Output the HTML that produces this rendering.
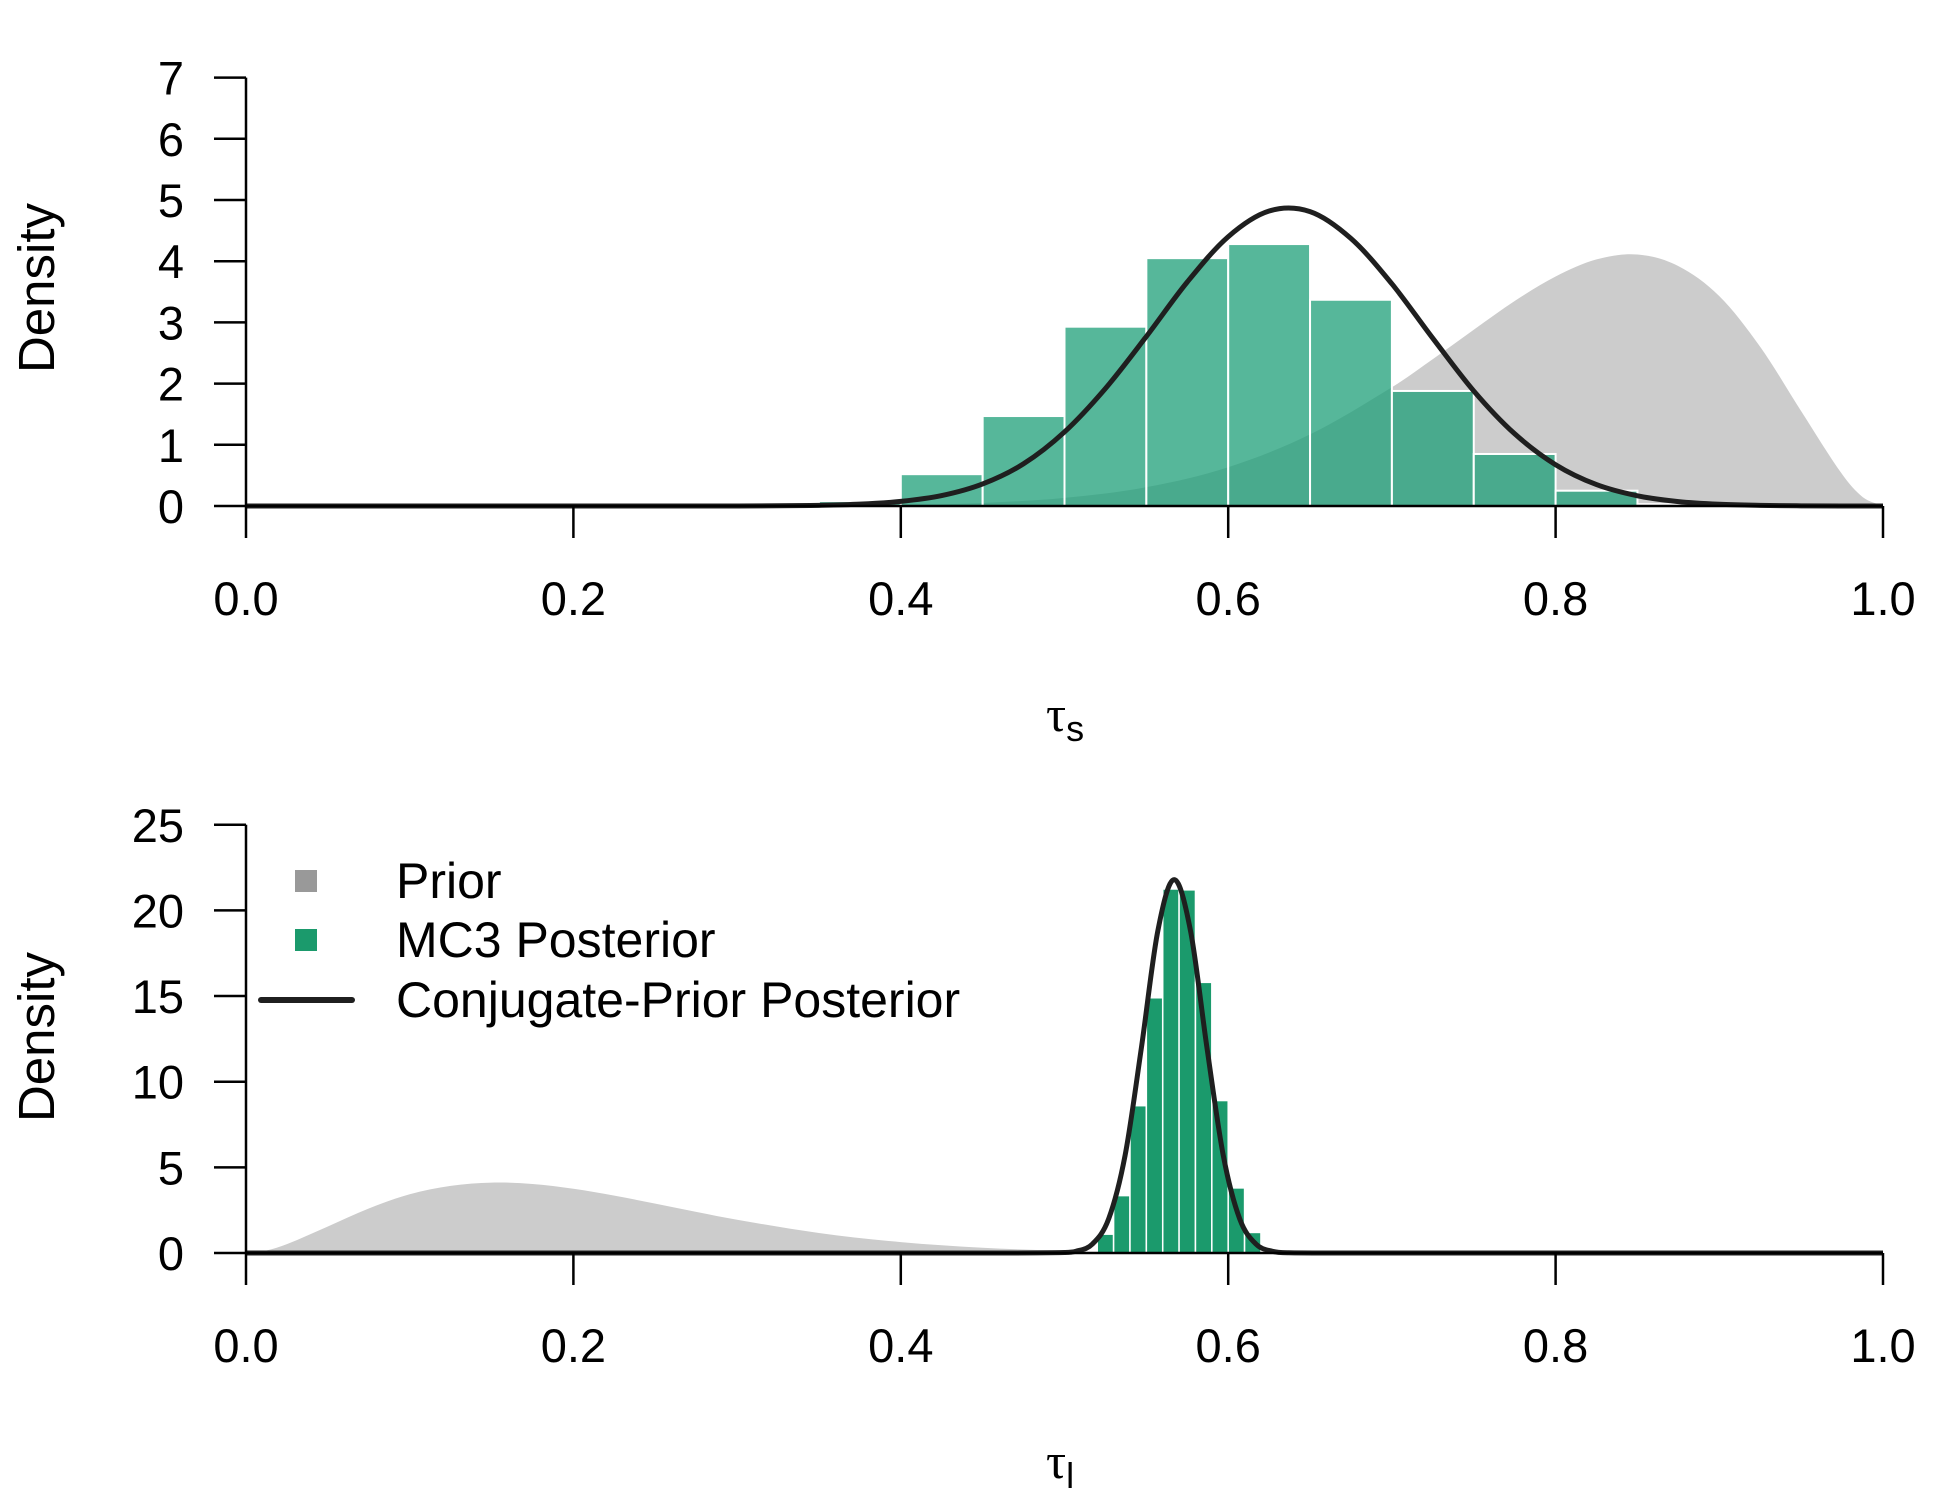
<!DOCTYPE html>
<html><head><meta charset="utf-8">
<style>
html,body{margin:0;padding:0;background:#fff;}
svg{display:block;font-family:"Liberation Sans",Arial,sans-serif;}
</style></head>
<body>
<svg id="chart" width="1950" height="1500" viewBox="0 0 1950 1500" xmlns="http://www.w3.org/2000/svg"></svg>
<script>
// ---------- data: top panel (tau_s) ----------
const topBinStarts = [0.35,0.40,0.45,0.50,0.55,0.60,0.65,0.70,0.75,0.80,0.85];
const topBinWidth = 0.05;
const topBinValues = [0.08,0.52,1.47,2.93,4.05,4.28,3.37,1.88,0.85,0.25,0.03];
const topPriorX = [0,0.3,0.4,0.45,0.5,0.55,0.6,0.65,0.7,0.725,0.75,0.775,0.8,0.825,0.85,0.875,0.9,0.925,0.95,0.975,0.9875,1.0];
const topPriorY = [0,0.0005,0.016,0.05,0.133,0.308,0.634,1.17,1.94,2.40,2.88,3.35,3.75,4.03,4.11,3.92,3.43,2.60,1.55,0.52,0.148,0];
const topPostX = [0,0.1,0.2,0.3,0.325,0.35,0.375,0.4,0.425,0.45,0.475,0.5,0.525,0.55,0.575,0.6,0.625,0.65,0.675,0.7,0.725,0.75,0.775,0.8,0.825,0.85,0.875,0.9,0.925,0.95,0.975,1];
const topPostY = [0,0,0,0.001,0.0035,0.011,0.030,0.075,0.17,0.36,0.69,1.21,1.92,2.77,3.66,4.40,4.82,4.81,4.37,3.63,2.74,1.88,1.18,0.675,0.35,0.167,0.072,0.028,0.010,0.003,0.001,0];
const topYTicks = [0,1,2,3,4,5,6,7];
// ---------- data: bottom panel (tau_l) ----------
const botBinStarts = [0.51,0.52,0.53,0.54,0.55,0.56,0.57,0.58,0.59,0.60,0.61];
const botBinWidth = 0.01;
const botBinValues = [0.1,1.1,3.35,8.6,14.9,21.25,21.2,15.8,8.9,3.8,1.2];
const botPriorX = [0,0.0125,0.025,0.05,0.075,0.1,0.125,0.15,0.175,0.2,0.225,0.25,0.275,0.3,0.35,0.4,0.45,0.5,0.55,0.6,0.7,1.0];
const botPriorY = [0,0.148,0.52,1.55,2.60,3.43,3.92,4.11,4.03,3.75,3.35,2.88,2.40,1.94,1.17,0.634,0.308,0.133,0.05,0.016,0,0];
const botPostX = [0,0.45,0.5,0.507,0.517,0.527,0.537,0.547,0.557,0.567,0.577,0.587,0.597,0.607,0.617,0.627,0.637,0.7,1];
const botPostY = [0,0,0.027,0.10,0.52,2.0,5.69,12.0,18.8,21.8,18.8,12.0,5.69,2.0,0.52,0.10,0.015,0,0];
const botYTicks = [0,5,10,15,20,25];
const xTicks = [0,0.2,0.4,0.6,0.8,1.0];
const xTickLabels = ["0.0","0.2","0.4","0.6","0.8","1.0"];

const NS = "http://www.w3.org/2000/svg";
const svg = document.getElementById('chart');
function mk(tag, attrs, parent){
  const e = document.createElementNS(NS, tag);
  for (const k in attrs) e.setAttribute(k, attrs[k]);
  (parent||svg).appendChild(e);
  return e;
}
const X0 = 246, X1 = 1883;
function xs(v){ return X0 + v*(X1-X0); }
function smoothPath(px, py){
  let d = "M"+px[0].toFixed(2)+","+py[0].toFixed(2);
  for (let i=0;i<px.length-1;i++){
    const x0=px[Math.max(i-1,0)], y0=py[Math.max(i-1,0)];
    const x1=px[i], y1=py[i], x2=px[i+1], y2=py[i+1];
    const x3=px[Math.min(i+2,px.length-1)], y3=py[Math.min(i+2,px.length-1)];
    const h=x2-x1;
    const m1=(y2-y0)/((x2-x0)||1), m2=(y3-y1)/((x3-x1)||1);
    d += " C"+(x1+h/3).toFixed(2)+","+(y1+m1*h/3).toFixed(2)+" "+(x2-h/3).toFixed(2)+","+(y2-m2*h/3).toFixed(2)+" "+x2.toFixed(2)+","+y2.toFixed(2);
  }
  return d;
}
function panel(cfg){
  const g = mk('g', {});
  
  
  const base = cfg.base, unit = cfg.unit;
  const ys = v => base - v*unit;
  const ppx = cfg.priorX.map(xs), ppy = cfg.priorY.map(v=>Math.min(ys(v),base));
  const prior = mk('path', {d: smoothPath(ppx,ppy)+" L"+xs(1)+","+base+" L"+xs(0)+","+base+" Z", fill:"#cccccc", stroke:"none"}, g);
  
  
  cfg.binStarts.forEach((s,i)=>{
    const v = cfg.binValues[i];
    const r = mk('rect', {x: xs(s), y: ys(v), width: xs(s+cfg.binWidth)-xs(s), height: v*unit, fill: cfg.barFill, stroke:"#ffffff", "stroke-width": cfg.barStroke}, g);
    
    
  });
  const lpx = cfg.postX.map(xs), lpy = cfg.postY.map(v=>Math.min(ys(v),base));
  const line = mk('path', {d: smoothPath(lpx,lpy), fill:"none", stroke:"#1f1f1f", "stroke-width":5, "stroke-linejoin":"round"}, g);
  
  
  const yTop = ys(cfg.yTicks[cfg.yTicks.length-1]);
  mk('line', {x1:X0, y1:base, x2:X0, y2:yTop, stroke:"#000", "stroke-width":2.5}, g);
  cfg.yTicks.forEach(t=>{
    mk('line', {x1:X0-32, y1:ys(t), x2:X0, y2:ys(t), stroke:"#000", "stroke-width":2.5}, g);
    const tx = mk('text', {x:184, y:ys(t)+17, "text-anchor":"end", "font-size":47, fill:"#000"}, g);
    tx.textContent = t;
    
    
  });
  mk('line', {x1:X0, y1:base, x2:X1, y2:base, stroke:"#000", "stroke-width":2.5}, g);
  xTicks.forEach((t,i)=>{
    mk('line', {x1:xs(t), y1:base, x2:xs(t), y2:base+32, stroke:"#000", "stroke-width":2.5}, g);
    const tx = mk('text', {x:xs(t), y:base+109, "text-anchor":"middle", "font-size":47, fill:"#000"}, g);
    tx.textContent = xTickLabels[i];
    
    
  });
  const yt = mk('text', {x:0, y:0, transform:"translate(54,"+cfg.yTitleY+") rotate(-90)", "text-anchor":"middle", "font-size":51, fill:"#000"}, g);
  yt.textContent = "Density";
  
  
  const xt = mk('text', {x:1046, y:base+225, "font-size":50, fill:"#000", "font-family":"Liberation Serif, DejaVu Serif, serif"}, g);
  xt.textContent = "τ";
  const sub = mk('tspan', {dy:10, "font-size":36, "font-family":"Liberation Sans, sans-serif"}, xt);
  sub.textContent = cfg.sub;
  
  
}
panel({name:"tau-s-panel", base:506, unit:61.2, yTicks:topYTicks, binStarts:topBinStarts, binWidth:topBinWidth, binValues:topBinValues,
  priorX:topPriorX, priorY:topPriorY, postX:topPostX, postY:topPostY, barFill:"rgba(27,158,119,0.74)", barStroke:2, yTitleY:288, sub:"s"});
panel({name:"tau-l-panel", base:1253, unit:17.13, yTicks:botYTicks, binStarts:botBinStarts, binWidth:botBinWidth, binValues:botBinValues,
  priorX:botPriorX, priorY:botPriorY, postX:botPostX, postY:botPostY, barFill:"#1b9a6c", barStroke:1.5, yTitleY:1037, sub:"l"});
const lg = mk('g', {});


const e1 = mk('rect', {x:295, y:870, width:22, height:22, fill:"#999999"}, lg);


const e2 = mk('rect', {x:295, y:929, width:22, height:22, fill:"#1b9a6c"}, lg);


const e3 = mk('line', {x1:261, y1:1000, x2:352, y2:1000, stroke:"#1f1f1f", "stroke-width":6, "stroke-linecap":"round"}, lg);


[["Prior",898],["MC3 Posterior",957],["Conjugate-Prior Posterior",1017]].forEach(([t,y])=>{
  const tx = mk('text', {x:396, y:y, "font-size":50, fill:"#000"}, lg);
  tx.textContent = t;
  
  
});
</script>
</body></html>
